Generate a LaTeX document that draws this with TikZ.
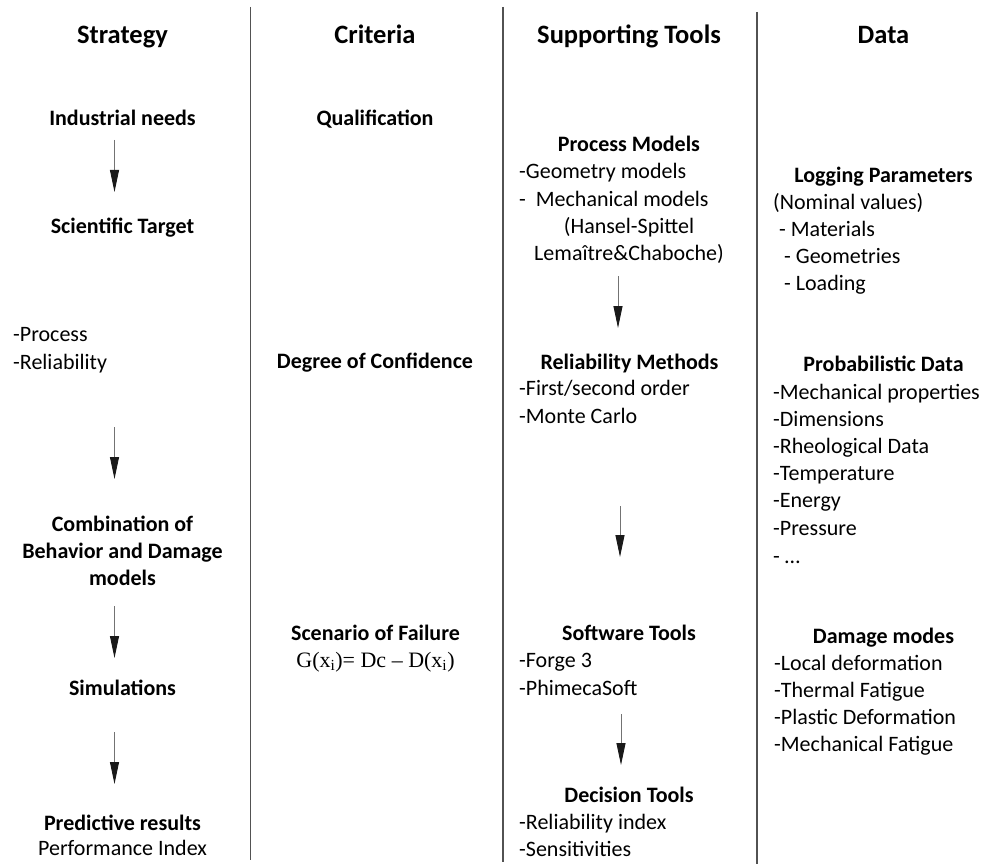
\documentclass[tikz,border=0pt]{standalone}
\usepackage{fontspec}
\setmainfont{Carlito}
\newfontfamily\tms{Liberation Serif}
\usetikzlibrary{arrows.meta}
\tikzset{
  hdr/.style={anchor=base, inner sep=0pt, font=\fontsize{26.5}{32}\selectfont\bfseries},
  ttl/.style={anchor=base, inner sep=0pt, font=\fontsize{22}{27}\selectfont\bfseries},
  ctr/.style={anchor=base, inner sep=0pt, font=\fontsize{22}{27}\selectfont},
  itm/.style={anchor=base west, inner sep=0pt, font=\fontsize{22}{27}\selectfont},
  sep/.style={draw=black!68, line width=1.3pt},
  arr/.style={draw=black!55, line width=0.9pt, -{Triangle[length=22pt,width=9pt,color=black!90,fill=black!90]}}
}
\begin{document}
\begin{tikzpicture}[x=1pt,y=-1pt]
\useasboundingbox (0,0) rectangle (997,864);
% separators
\coordinate (s1t) at (250.5,7); \coordinate (s1b) at (250.5,860);
\coordinate (s2t) at (503,7);   \coordinate (s2b) at (503,862);
\coordinate (s3t) at (757,12);  \coordinate (s3b) at (757,864);
\draw[sep] (s1t) -- (s1b);
\draw[sep] (s2t) -- (s2b);
\draw[sep] (s3t) -- (s3b);
\begin{scope}[shift={(0,2.5)}]
% headers
\node[hdr] (h1) at (122.5,41) {Strategy};
\node[hdr] (h2) at (375,41) {Criteria};
\node[hdr] (h3) at (629,41) {Supporting Tools};
\node[hdr] (h4) at (883.5,41) {Data};
% Strategy column
\node[ttl] (ind) at (122.5,123) {Industrial needs};
\node[ttl] (sci) at (122.5,231) {Scientific Target};
\node[itm] (pro) at (13,339) {-Process};
\node[itm] (rel) at (13,367) {-Reliability};
\node[ttl] (com1) at (122.5,529) {Combination of};
\node[ttl] (com2) at (122.5,556) {Behavior and Damage};
\node[ttl] (com3) at (122.5,583) {models};
\node[ttl] (sim) at (122.5,693) {Simulations};
\node[ttl] (pre) at (122.5,828) {Predictive results};
\node[ctr] (perf) at (122.5,853) {Performance Index};
% Criteria column
\node[ttl] (qua) at (375,123) {Qualification};
\node[ttl] (deg) at (375,366) {Degree of Confidence};
\node[ttl] (scen) at (375.5,638) {Scenario of Failure};
\node[ctr, font=\fontsize{22}{27}\selectfont\tms] (form) at (375.5,665) {G(x\textsubscript{i})= Dc – D(x\textsubscript{i})};
% Supporting tools column
\node[ttl] (pm) at (629,149) {Process Models};
\node[itm] (pm1) at (519,176) {-Geometry models};
\node[itm] (pm2) at (519,204) {-\ \ Mechanical models};
\node[ctr] (pm3) at (629,231) {(Hansel-Spittel};
\node[ctr] (pm4) at (629,258) {Lema\^{\i}tre\&Chaboche)};
\node[ttl] (rm) at (629.5,367) {Reliability Methods};
\node[itm] (rm1) at (519,393) {-First/second order};
\node[itm] (rm2) at (519,421) {-Monte Carlo};
\node[ttl] (st) at (629,638) {Software Tools};
\node[itm] (st1) at (519,665) {-Forge 3};
\node[itm] (st2) at (519,693) {-PhimecaSoft};
\node[ttl] (dt) at (629,800) {Decision Tools};
\node[itm] (dt1) at (519,827) {-Reliability index};
\node[itm] (dt2) at (519,854) {-Sensitivities};
% Data column
\node[ttl] (lp) at (883.5,180) {Logging Parameters};
\node[itm] (lp1) at (773,207) {(Nominal values)};
\node[itm] (lp2) at (779,234) {- Materials};
\node[itm] (lp3) at (784,261) {- Geometries};
\node[itm] (lp4) at (784,288) {- Loading};
\node[ttl] (pd) at (883.5,369) {Probabilistic Data};
\node[itm] (pd1) at (773,397) {-Mechanical properties};
\node[itm] (pd2) at (773,424) {-Dimensions};
\node[itm] (pd3) at (773,451) {-Rheological Data};
\node[itm] (pd4) at (773,478) {-Temperature};
\node[itm] (pd5) at (773,505) {-Energy};
\node[itm] (pd6) at (773,533) {-Pressure};
\node[itm] (pd7) at (773,561) {- …};
\node[ttl] (dm) at (883.5,641) {Damage modes};
\node[itm] (dm1) at (774,668) {-Local deformation};
\node[itm] (dm2) at (774,695) {-Thermal Fatigue};
\node[itm] (dm3) at (774,722) {-Plastic Deformation};
\node[itm] (dm4) at (774,749) {-Mechanical Fatigue};
\end{scope}
% arrows
\coordinate (a1s) at (114.5,140); \coordinate (a1e) at (114.5,192);
\coordinate (a2s) at (114.5,427); \coordinate (a2e) at (114.5,479);
\coordinate (a3s) at (114.5,606); \coordinate (a3e) at (114.5,658);
\coordinate (a4s) at (114.5,732); \coordinate (a4e) at (114.5,784);
\draw[arr] (a1s) -- (a1e);
\draw[arr] (a2s) -- (a2e);
\draw[arr] (a3s) -- (a3e);
\draw[arr] (a4s) -- (a4e);
\coordinate (b1s) at (618,276); \coordinate (b1e) at (618,328);
\coordinate (b2s) at (620,506); \coordinate (b2e) at (620,557);
\coordinate (b3s) at (621,714); \coordinate (b3e) at (621,765);
\draw[arr] (b1s) -- (b1e);
\draw[arr] (b2s) -- (b2e);
\draw[arr] (b3s) -- (b3e);
\end{tikzpicture}
\end{document}
